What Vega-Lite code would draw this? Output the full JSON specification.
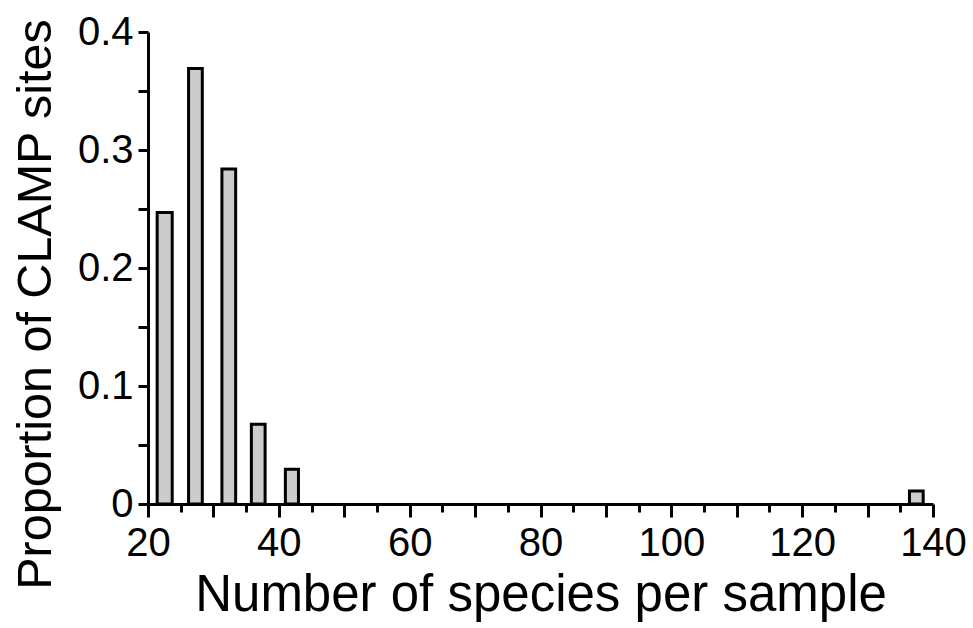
{
  "$schema": "https://vega.github.io/schema/vega-lite/v6.json",
  "width": 785,
  "height": 472,
  "autosize": "none",
  "padding": {"left": 148, "top": 32, "right": 40, "bottom": 124},
  "background": "white",
  "config": {
    "view": {"stroke": null},
    "font": "Liberation Sans"
  },
  "data": {
    "values": [
      {"lo": 21.4, "hi": 23.7, "p": 0.247},
      {"lo": 26.2, "hi": 28.3, "p": 0.369},
      {"lo": 31.3, "hi": 33.4, "p": 0.284},
      {"lo": 35.8, "hi": 37.9, "p": 0.0675},
      {"lo": 41.0, "hi": 43.0, "p": 0.0294},
      {"lo": 136.4, "hi": 138.5, "p": 0.011}
    ]
  },
  "mark": {"type": "bar", "fill": "#cccccc", "stroke": "black", "strokeWidth": 3},
  "encoding": {
    "x": {
      "field": "lo",
      "type": "quantitative",
      "scale": {"domain": [20, 140], "nice": false, "zero": false},
      "axis": {
        "title": "Number of species per sample",
        "values": [20,25,30,35,40,45,50,55,60,65,70,75,80,85,90,95,100,105,110,115,120,125,130,135,140],
        "labelExpr": "datum.value % 20 === 0 ? datum.label : ''",
        "grid": false,
        "domainColor": "black",
        "domainWidth": 3,
        "tickColor": "black",
        "tickWidth": 3,
        "tickSize": {"condition": {"test": "datum.value % 10 === 0", "value": 13}, "value": 8},
        "labelFontSize": 40,
        "labelColor": "black",
        "labelPadding": 6,
        "labelFlush": false,
        "labelOverlap": false,
        "titleFontSize": 51,
        "titleFontWeight": "normal",
        "titleColor": "black",
        "titlePadding": 7
      }
    },
    "x2": {"field": "hi"},
    "y": {
      "field": "p",
      "type": "quantitative",
      "scale": {"domain": [0, 0.4], "nice": false},
      "axis": {
        "title": "Proportion of CLAMP sites",
        "values": [0, 0.05, 0.1, 0.15, 0.2, 0.25, 0.3, 0.35, 0.4],
        "labelExpr": "round(datum.value * 100) % 10 === 0 ? (datum.value === 0 ? '0' : format(datum.value, '.1f')) : ''",
        "grid": false,
        "domainColor": "black",
        "domainWidth": 3,
        "tickColor": "black",
        "tickWidth": 3,
        "tickSize": 10,
        "labelFontSize": 40,
        "labelColor": "black",
        "labelPadding": 5,
        "labelFlush": false,
        "labelOverlap": false,
        "titleFontSize": 48.5,
        "titleFontWeight": "normal",
        "titleColor": "black",
        "titlePadding": 17,
        "titleY": 272
      }
    },
    "y2": {"datum": 0}
  }
}
